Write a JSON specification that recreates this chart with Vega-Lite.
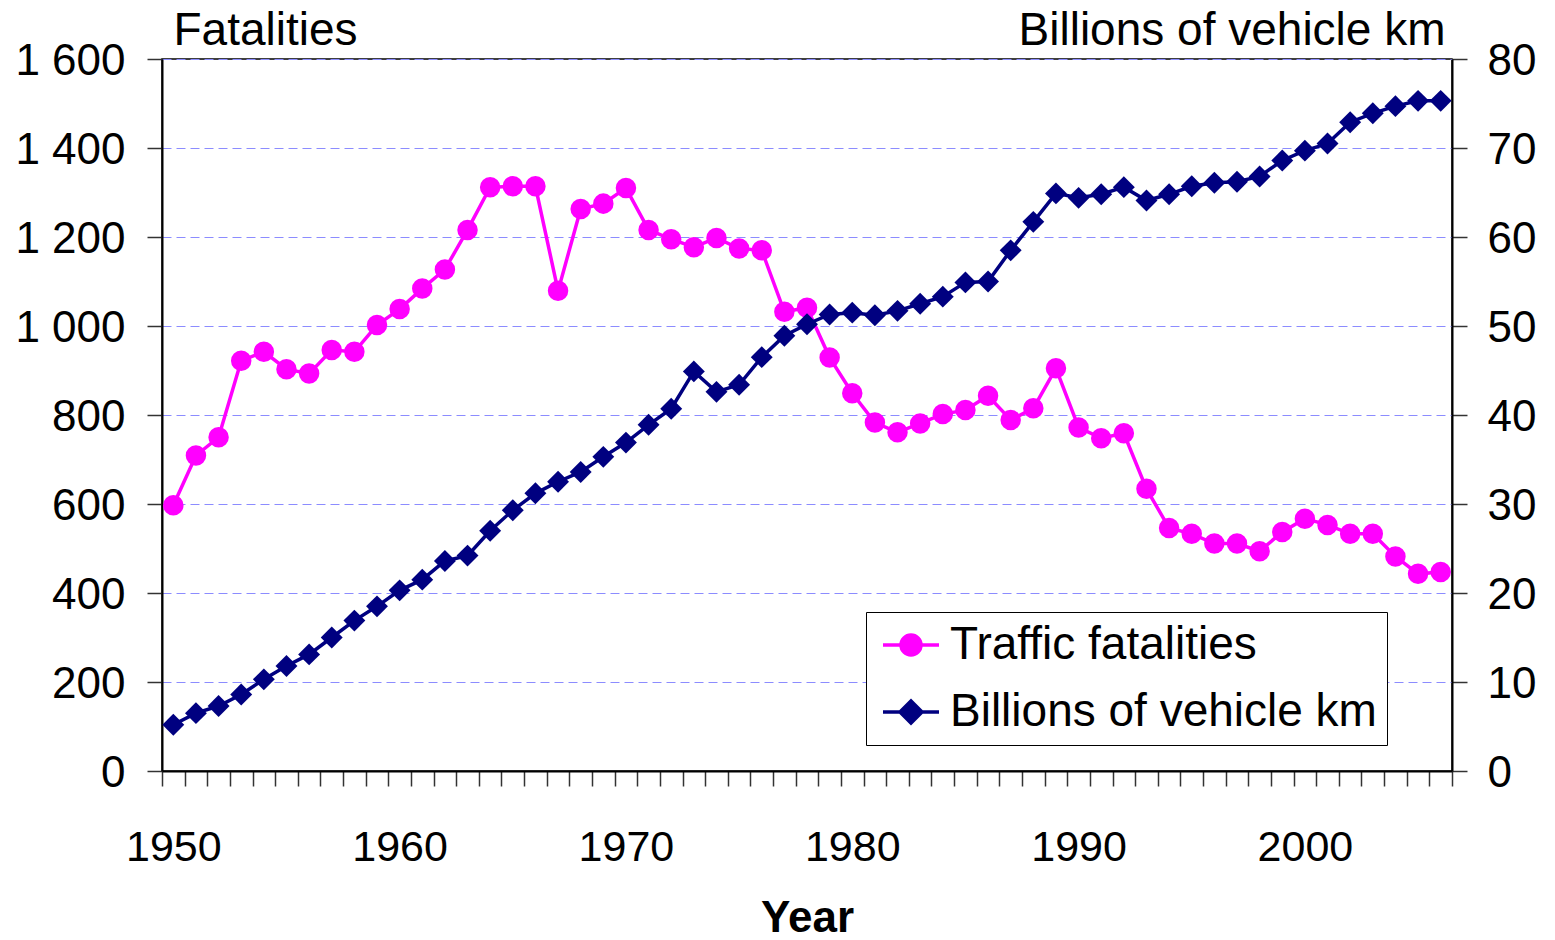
{
  "$schema": "https://vega.github.io/schema/vega-lite/v6.json",
  "width": 1290,
  "height": 712,
  "autosize": {"type": "none"},
  "padding": {"left": 162, "top": 59, "right": 103, "bottom": 169},
  "background": "white",
  "config": {
    "font": "Liberation Sans",
    "view": {"stroke": "black", "strokeWidth": 1.5},
    "axis": {
      "labelFont": "Liberation Sans",
      "titleFont": "Liberation Sans",
      "labelFontSize": 43,
      "titleFontSize": 46,
      "labelColor": "black",
      "titleColor": "black",
      "domainColor": "black",
      "domainWidth": 2,
      "tickColor": "#333333",
      "tickWidth": 1.5,
      "tickSize": 15,
      "titleFontWeight": "normal"
    }
  },
  "data": {
    "values": [
      {"year": 1950, "series": "Traffic fatalities", "value": 597},
      {"year": 1951, "series": "Traffic fatalities", "value": 709},
      {"year": 1952, "series": "Traffic fatalities", "value": 750},
      {"year": 1953, "series": "Traffic fatalities", "value": 922},
      {"year": 1954, "series": "Traffic fatalities", "value": 942},
      {"year": 1955, "series": "Traffic fatalities", "value": 903},
      {"year": 1956, "series": "Traffic fatalities", "value": 893},
      {"year": 1957, "series": "Traffic fatalities", "value": 946},
      {"year": 1958, "series": "Traffic fatalities", "value": 942},
      {"year": 1959, "series": "Traffic fatalities", "value": 1002},
      {"year": 1960, "series": "Traffic fatalities", "value": 1038},
      {"year": 1961, "series": "Traffic fatalities", "value": 1084},
      {"year": 1962, "series": "Traffic fatalities", "value": 1127},
      {"year": 1963, "series": "Traffic fatalities", "value": 1216},
      {"year": 1964, "series": "Traffic fatalities", "value": 1312},
      {"year": 1965, "series": "Traffic fatalities", "value": 1314},
      {"year": 1966, "series": "Traffic fatalities", "value": 1314},
      {"year": 1967, "series": "Traffic fatalities", "value": 1079},
      {"year": 1968, "series": "Traffic fatalities", "value": 1263},
      {"year": 1969, "series": "Traffic fatalities", "value": 1275},
      {"year": 1970, "series": "Traffic fatalities", "value": 1310},
      {"year": 1971, "series": "Traffic fatalities", "value": 1216},
      {"year": 1972, "series": "Traffic fatalities", "value": 1195},
      {"year": 1973, "series": "Traffic fatalities", "value": 1177},
      {"year": 1974, "series": "Traffic fatalities", "value": 1198},
      {"year": 1975, "series": "Traffic fatalities", "value": 1174},
      {"year": 1976, "series": "Traffic fatalities", "value": 1170},
      {"year": 1977, "series": "Traffic fatalities", "value": 1032},
      {"year": 1978, "series": "Traffic fatalities", "value": 1041},
      {"year": 1979, "series": "Traffic fatalities", "value": 929},
      {"year": 1980, "series": "Traffic fatalities", "value": 849},
      {"year": 1981, "series": "Traffic fatalities", "value": 783},
      {"year": 1982, "series": "Traffic fatalities", "value": 761},
      {"year": 1983, "series": "Traffic fatalities", "value": 781},
      {"year": 1984, "series": "Traffic fatalities", "value": 802},
      {"year": 1985, "series": "Traffic fatalities", "value": 811},
      {"year": 1986, "series": "Traffic fatalities", "value": 843},
      {"year": 1987, "series": "Traffic fatalities", "value": 789},
      {"year": 1988, "series": "Traffic fatalities", "value": 815},
      {"year": 1989, "series": "Traffic fatalities", "value": 905},
      {"year": 1990, "series": "Traffic fatalities", "value": 772},
      {"year": 1991, "series": "Traffic fatalities", "value": 748},
      {"year": 1992, "series": "Traffic fatalities", "value": 759},
      {"year": 1993, "series": "Traffic fatalities", "value": 634},
      {"year": 1994, "series": "Traffic fatalities", "value": 546},
      {"year": 1995, "series": "Traffic fatalities", "value": 533},
      {"year": 1996, "series": "Traffic fatalities", "value": 511},
      {"year": 1997, "series": "Traffic fatalities", "value": 511},
      {"year": 1998, "series": "Traffic fatalities", "value": 494},
      {"year": 1999, "series": "Traffic fatalities", "value": 537},
      {"year": 2000, "series": "Traffic fatalities", "value": 567},
      {"year": 2001, "series": "Traffic fatalities", "value": 553},
      {"year": 2002, "series": "Traffic fatalities", "value": 533},
      {"year": 2003, "series": "Traffic fatalities", "value": 533},
      {"year": 2004, "series": "Traffic fatalities", "value": 482},
      {"year": 2005, "series": "Traffic fatalities", "value": 443},
      {"year": 2006, "series": "Traffic fatalities", "value": 447},
      {"year": 1950, "series": "Billions of vehicle km", "value": 5.2},
      {"year": 1951, "series": "Billions of vehicle km", "value": 6.5},
      {"year": 1952, "series": "Billions of vehicle km", "value": 7.3},
      {"year": 1953, "series": "Billions of vehicle km", "value": 8.6},
      {"year": 1954, "series": "Billions of vehicle km", "value": 10.3},
      {"year": 1955, "series": "Billions of vehicle km", "value": 11.8},
      {"year": 1956, "series": "Billions of vehicle km", "value": 13.1},
      {"year": 1957, "series": "Billions of vehicle km", "value": 15.0},
      {"year": 1958, "series": "Billions of vehicle km", "value": 16.9},
      {"year": 1959, "series": "Billions of vehicle km", "value": 18.5},
      {"year": 1960, "series": "Billions of vehicle km", "value": 20.3},
      {"year": 1961, "series": "Billions of vehicle km", "value": 21.5},
      {"year": 1962, "series": "Billions of vehicle km", "value": 23.6},
      {"year": 1963, "series": "Billions of vehicle km", "value": 24.2},
      {"year": 1964, "series": "Billions of vehicle km", "value": 27.0},
      {"year": 1965, "series": "Billions of vehicle km", "value": 29.3},
      {"year": 1966, "series": "Billions of vehicle km", "value": 31.2},
      {"year": 1967, "series": "Billions of vehicle km", "value": 32.5},
      {"year": 1968, "series": "Billions of vehicle km", "value": 33.6},
      {"year": 1969, "series": "Billions of vehicle km", "value": 35.3},
      {"year": 1970, "series": "Billions of vehicle km", "value": 36.9},
      {"year": 1971, "series": "Billions of vehicle km", "value": 38.9},
      {"year": 1972, "series": "Billions of vehicle km", "value": 40.7},
      {"year": 1973, "series": "Billions of vehicle km", "value": 44.9},
      {"year": 1974, "series": "Billions of vehicle km", "value": 42.6},
      {"year": 1975, "series": "Billions of vehicle km", "value": 43.4},
      {"year": 1976, "series": "Billions of vehicle km", "value": 46.5},
      {"year": 1977, "series": "Billions of vehicle km", "value": 48.9},
      {"year": 1978, "series": "Billions of vehicle km", "value": 50.2},
      {"year": 1979, "series": "Billions of vehicle km", "value": 51.3},
      {"year": 1980, "series": "Billions of vehicle km", "value": 51.5},
      {"year": 1981, "series": "Billions of vehicle km", "value": 51.2},
      {"year": 1982, "series": "Billions of vehicle km", "value": 51.7},
      {"year": 1983, "series": "Billions of vehicle km", "value": 52.5},
      {"year": 1984, "series": "Billions of vehicle km", "value": 53.3},
      {"year": 1985, "series": "Billions of vehicle km", "value": 54.9},
      {"year": 1986, "series": "Billions of vehicle km", "value": 55.0},
      {"year": 1987, "series": "Billions of vehicle km", "value": 58.5},
      {"year": 1988, "series": "Billions of vehicle km", "value": 61.7},
      {"year": 1989, "series": "Billions of vehicle km", "value": 64.9},
      {"year": 1990, "series": "Billions of vehicle km", "value": 64.4},
      {"year": 1991, "series": "Billions of vehicle km", "value": 64.8},
      {"year": 1992, "series": "Billions of vehicle km", "value": 65.6},
      {"year": 1993, "series": "Billions of vehicle km", "value": 64.1},
      {"year": 1994, "series": "Billions of vehicle km", "value": 64.8},
      {"year": 1995, "series": "Billions of vehicle km", "value": 65.7},
      {"year": 1996, "series": "Billions of vehicle km", "value": 66.1},
      {"year": 1997, "series": "Billions of vehicle km", "value": 66.2},
      {"year": 1998, "series": "Billions of vehicle km", "value": 66.8},
      {"year": 1999, "series": "Billions of vehicle km", "value": 68.6},
      {"year": 2000, "series": "Billions of vehicle km", "value": 69.7},
      {"year": 2001, "series": "Billions of vehicle km", "value": 70.5},
      {"year": 2002, "series": "Billions of vehicle km", "value": 72.9},
      {"year": 2003, "series": "Billions of vehicle km", "value": 73.9},
      {"year": 2004, "series": "Billions of vehicle km", "value": 74.7},
      {"year": 2005, "series": "Billions of vehicle km", "value": 75.3},
      {"year": 2006, "series": "Billions of vehicle km", "value": 75.3}
    ]
  },
  "encoding": {
    "x": {
      "field": "year",
      "type": "quantitative",
      "scale": {"domain": [1949.5, 2006.5], "nice": false, "zero": false},
      "axis": {
        "values": [1949.5, 1950.5, 1951.5, 1952.5, 1953.5, 1954.5, 1955.5, 1956.5, 1957.5, 1958.5, 1959.5, 1960.5, 1961.5, 1962.5, 1963.5, 1964.5, 1965.5, 1966.5, 1967.5, 1968.5, 1969.5, 1970.5, 1971.5, 1972.5, 1973.5, 1974.5, 1975.5, 1976.5, 1977.5, 1978.5, 1979.5, 1980.5, 1981.5, 1982.5, 1983.5, 1984.5, 1985.5, 1986.5, 1987.5, 1988.5, 1989.5, 1990.5, 1991.5, 1992.5, 1993.5, 1994.5, 1995.5, 1996.5, 1997.5, 1998.5, 1999.5, 2000.5, 2001.5, 2002.5, 2003.5, 2004.5, 2005.5, 2006.5],
        "labelExpr": "(datum.value + 0.5) % 10 == 0 ? '' + (datum.value + 0.5) : ''",
        "labelOffset": 11.3,
        "labelAlign": "center",
        "labelOverlap": false,
        "labelFlush": false,
        "labelBound": false,
        "labelPadding": 40,
        "grid": false,
        "title": "Year",
        "titleFontSize": 44,
        "titleFontWeight": "bold",
        "titleBaseline": "alphabetic",
        "titleY": 160,
        "titleX": 645,
        "titleAnchor": null
      }
    }
  },
  "layer": [
    {
      "transform": [{"filter": "datum.series == 'Traffic fatalities'"}],
      "encoding": {
        "y": {
          "field": "value",
          "type": "quantitative",
          "scale": {"domain": [0, 1600], "nice": false},
          "axis": {
            "orient": "left",
            "values": [0, 200, 400, 600, 800, 1000, 1200, 1400, 1600],
            "labelExpr": "replace(format(datum.value, ','), ',', ' ')",
            "labelFontSize": 44,
            "labelPadding": 22,
            "labelOffset": 2,
            "grid": true,
            "gridColor": "#8c8cff",
            "gridDash": [9, 5],
            "gridWidth": 1,
            "title": "Fatalities",
            "titleAngle": 0,
            "titleAlign": "left",
            "titleBaseline": "alphabetic",
            "titleX": 11,
            "titleY": -15
          }
        }
      },
      "layer": [
        {
          "mark": {"type": "line", "strokeWidth": 3.5},
          "encoding": {
            "color": {
              "field": "series",
              "type": "nominal",
              "scale": {"domain": ["Traffic fatalities", "Billions of vehicle km"], "range": ["#ff00ff", "#000080"]},
              "legend": {
                "orient": "none",
                "legendX": 704,
                "legendY": 553,
                "title": null,
                "direction": "vertical",
                "strokeColor": "black",
                "fillColor": "white",
                "padding": 10,
                "symbolOffset": 12,
                "symbolSize": 1600,
                "symbolStrokeWidth": 3,
                "labelFont": "Liberation Sans",
                "labelFontSize": 46,
                "labelColor": "black",
                "labelOffset": 16,
                "labelLimit": 700,
                "rowPadding": 21,
                "encode": {
                  "symbols": {
                    "update": {
                      "shape": {"signal": "datum.value == 'Traffic fatalities' ? 'M-1.4,0H1.4M-0.5,0A0.5,0.5,0,1,0,0.5,0A0.5,0.5,0,1,0,-0.5,0Z' : 'M-1.4,0H1.4M0,-0.55L0.55,0L0,0.55L-0.55,0Z'"},
                      "fill": {"scale": "color", "field": "value"},
                      "stroke": {"scale": "color", "field": "value"},
                      "strokeWidth": {"value": 3.5},
                      "size": {"value": 1600},
                      "opacity": {"value": 1}
                    }
                  }
                }
              }
            }
          }
        },
        {
          "mark": {"type": "point", "shape": "circle", "filled": true, "size": 420, "color": "#ff00ff", "opacity": 1}
        }
      ]
    },
    {
      "transform": [{"filter": "datum.series == 'Billions of vehicle km'"}],
      "encoding": {
        "y": {
          "field": "value",
          "type": "quantitative",
          "scale": {"domain": [0, 80], "nice": false},
          "axis": {
            "orient": "right",
            "values": [0, 10, 20, 30, 40, 50, 60, 70, 80],
            "labelFontSize": 44,
            "labelPadding": 20,
            "labelOffset": 2,
            "grid": false,
            "title": "Billions of vehicle km",
            "titleAngle": 0,
            "titleAlign": "right",
            "titleBaseline": "alphabetic",
            "titleX": -7,
            "titleY": -15
          }
        }
      },
      "layer": [
        {
          "mark": {"type": "line", "strokeWidth": 3.5},
          "encoding": {
            "color": {"field": "series", "type": "nominal"}
          }
        },
        {
          "mark": {"type": "point", "shape": "diamond", "filled": true, "size": 480, "color": "#000080", "opacity": 1}
        }
      ]
    }
  ],
  "resolve": {"scale": {"y": "independent"}}
}
